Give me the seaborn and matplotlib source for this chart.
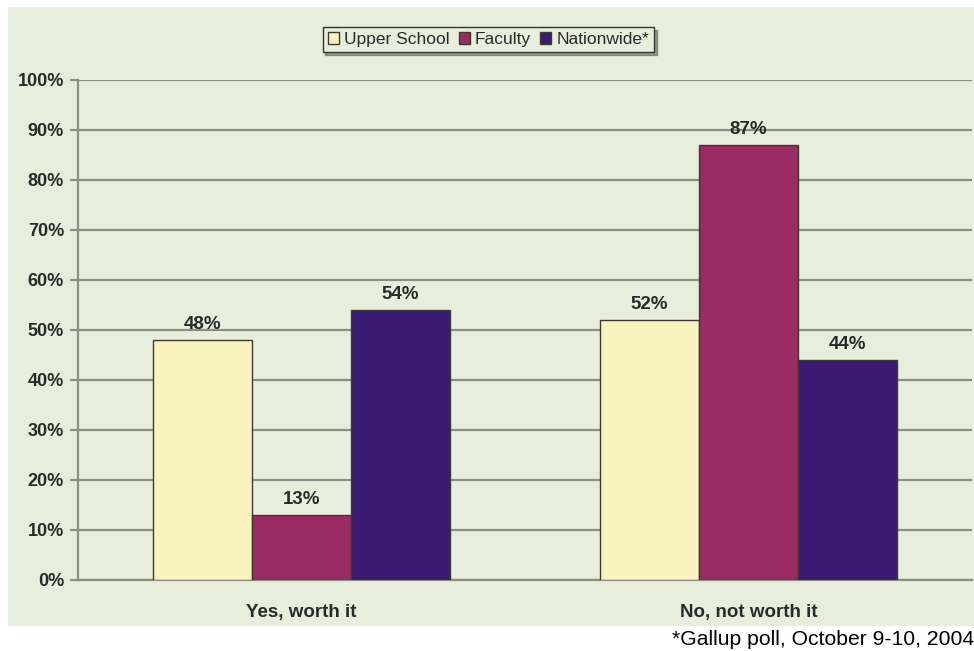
import matplotlib
matplotlib.use("Agg")
import matplotlib.pyplot as plt
from matplotlib.patches import Rectangle
import seaborn as sns
import pandas as pd

categories = ["Yes, worth it", "No, not worth it"]
groups = ["Upper School", "Faculty", "Nationwide*"]
upper_school = [48, 52]
faculty = [13, 87]
nationwide = [54, 44]
y_ticks = [0, 10, 20, 30, 40, 50, 60, 70, 80, 90, 100]
footnote = "*Gallup poll, October 9-10, 2004"

colors = ["#FBF3BF", "#9A2B63", "#3B1A73"]
panel_bg = "#E8EEDC"
grid_col = "#8E8E86"
text_col = "#2a2a2a"

df = pd.DataFrame({
    "category": categories * 3,
    "group": [g for g in groups for _ in categories],
    "value": upper_school + faculty + nationwide,
})

sns.set_theme(style="white")
plt.rcParams["font.family"] = ["Liberation Sans", "DejaVu Sans"]

W, H = 974, 651
fig = plt.figure(figsize=(W / 100, H / 100), dpi=100, facecolor="white")

# light green panel behind the chart
fig.patches.append(Rectangle((8 / W, 1 - 626 / H), (W - 8) / W, (626 - 7) / H,
                             transform=fig.transFigure, facecolor=panel_bg,
                             edgecolor="none", zorder=-10))

ax = fig.add_axes([78 / W, 71 / H, (972 - 78) / W, 500 / H])
ax.set_zorder(5)
ax.patch.set_alpha(0)

sns.barplot(data=df, x="category", y="value", hue="group", order=categories,
            hue_order=groups, palette=colors, width=0.665, saturation=1,
            edgecolor="#3a3a30", linewidth=1.0, ax=ax, zorder=3)

ax.set_ylim(0, 100)
ax.set_xlim(-0.5, 1.5)
ax.set_yticks(y_ticks)
ax.set_yticklabels([f"{t}%" for t in y_ticks], fontsize=13, fontweight="bold",
                   color=text_col)
ax.set_xticks(range(len(categories)))
ax.set_xticklabels(categories, fontsize=13.5, fontweight="bold", color=text_col)
ax.set_xlabel("")
ax.set_ylabel("")

ax.yaxis.grid(True, color=grid_col, linewidth=1.6, zorder=1)
ax.set_axisbelow(True)
for side in ["top", "right"]:
    ax.spines[side].set_visible(False)
ax.spines["left"].set_color(grid_col)
ax.spines["left"].set_linewidth(1.6)
ax.spines["bottom"].set_color(grid_col)
ax.spines["bottom"].set_linewidth(1.6)
ax.tick_params(axis="y", which="major", left=True, length=6, width=1.6,
               color=grid_col, pad=4)
ax.tick_params(axis="x", which="major", bottom=False, pad=11)

for container in ax.containers:
    ax.bar_label(container, labels=[f"{v:.0f}%" for v in container.datavalues],
                 padding=5, fontsize=13.5, fontweight="bold", color=text_col)

handles, labels = ax.get_legend_handles_labels()
leg = ax.legend(handles, labels, loc="center", ncol=3,
                bbox_to_anchor=(488.5 / W, 1 - 39.5 / H),
                bbox_transform=fig.transFigure, frameon=True, fancybox=False,
                shadow=True, fontsize=12.5, handlelength=0.65, handleheight=0.65,
                handletextpad=0.3, columnspacing=0.5, borderpad=0.3,
                edgecolor="#333333")
leg.get_frame().set_facecolor(panel_bg)
leg.get_frame().set_linewidth(1.0)
for t in leg.get_texts():
    t.set_color(text_col)

fig.text(672 / W, 1 - 645 / H, footnote, fontsize=15.2, color="black",
         ha="left", va="baseline")

fig.savefig("out.png", dpi=100, facecolor="white")
